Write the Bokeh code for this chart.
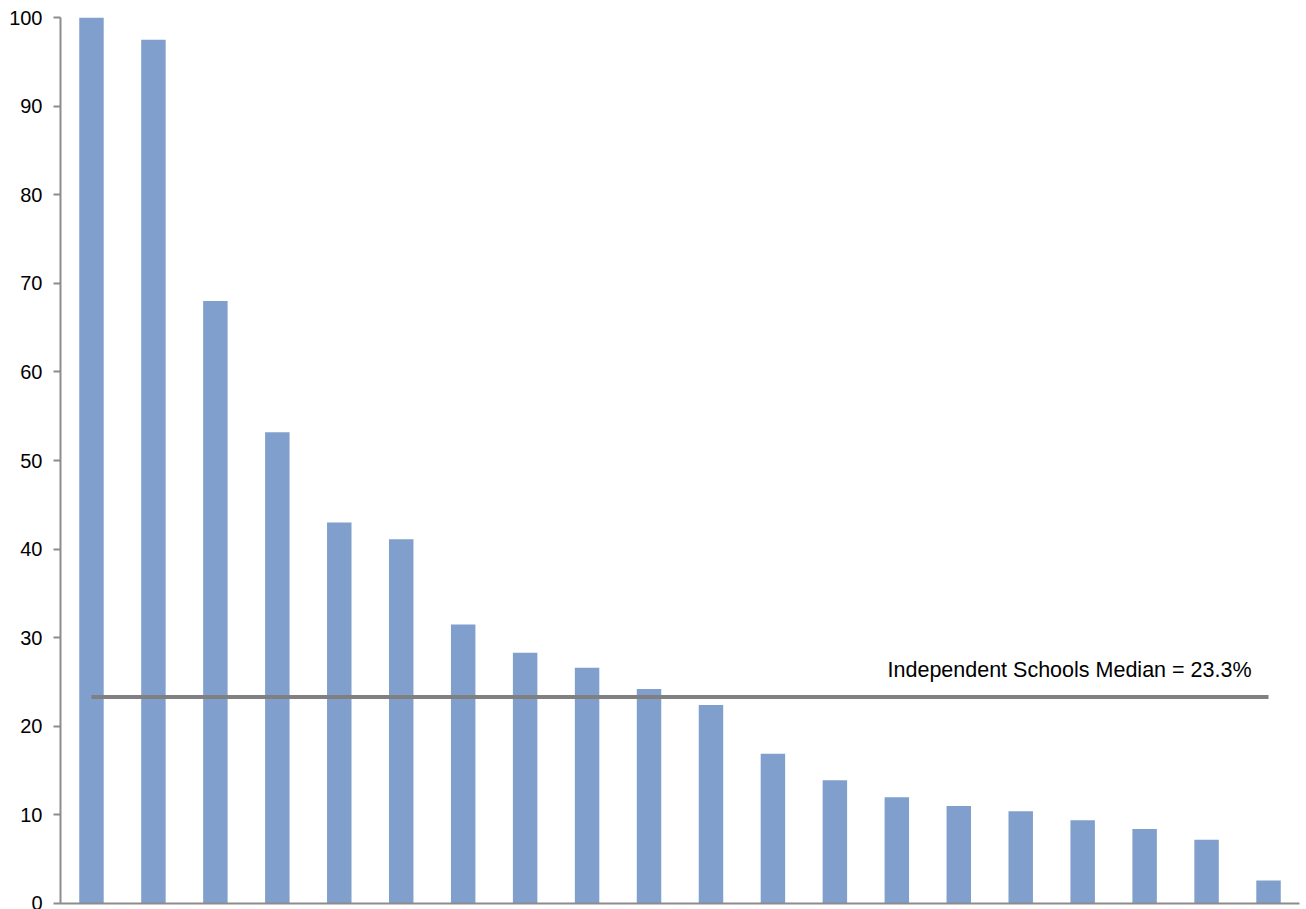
from bokeh.plotting import figure
from bokeh.models import Range1d, Label, FixedTicker, ColumnDataSource
from bokeh.embed import file_html
from bokeh.resources import INLINE

# Share of students per school, sorted from highest to lowest
school_index = list(range(1, 21))
percent_values = [100.0, 97.5, 68.0, 53.2, 43.0, 41.1, 31.5, 28.3, 26.6, 24.2,
                  22.4, 16.9, 13.9, 12.0, 11.0, 10.4, 9.4, 8.4, 7.2, 2.6]
median_value = 23.3
median_label = "Independent Schools Median = 23.3%"
y_ticks = [0, 10, 20, 30, 40, 50, 60, 70, 80, 90, 100]

BAR_COLOR = "#819FCC"
LINE_COLOR = "#808080"
AXIS_COLOR = "#8C8C8C"
FONT = "Liberation Sans"

p = figure(width=1306, height=909, output_backend="svg", toolbar_location=None,
           x_range=Range1d(0.5, 20.5), y_range=Range1d(0, 100),
           min_border_left=60, min_border_right=7, min_border_top=17,
           min_border_bottom=6)
p.outline_line_color = None
p.xgrid.visible = False
p.ygrid.visible = False
p.background_fill_color = "white"
p.border_fill_color = "white"

src = ColumnDataSource(dict(x=school_index, top=percent_values))
p.vbar(x="x", top="top", width=0.395, bottom=0, source=src,
       fill_color=BAR_COLOR, line_color=None)

# Median reference line spanning the bar centres
p.line(x=[school_index[0], school_index[-1]], y=[median_value, median_value],
       line_color=LINE_COLOR, line_width=4)

p.add_layout(Label(x=13.85, y=median_value, text=median_label, y_offset=15,
                   text_font=FONT, text_font_size="21.5px", text_color="black",
                   text_baseline="bottom", text_align="left"))

# Y axis
p.yaxis.ticker = FixedTicker(ticks=y_ticks)
p.yaxis.axis_line_color = AXIS_COLOR
p.yaxis.axis_line_width = 2
p.yaxis.major_tick_line_color = AXIS_COLOR
p.yaxis.major_tick_line_width = 2
p.yaxis.major_tick_out = 7
p.yaxis.major_tick_in = 0
p.yaxis.minor_tick_line_color = None
p.yaxis.major_label_text_font = FONT
p.yaxis.major_label_text_font_size = "20px"
p.yaxis.major_label_text_color = "black"
p.yaxis.major_label_standoff = 11

# X axis: plain baseline without ticks or labels
p.xaxis.ticker = FixedTicker(ticks=[])
p.xaxis.major_tick_line_color = None
p.xaxis.minor_tick_line_color = None
p.xaxis.axis_line_color = AXIS_COLOR
p.xaxis.axis_line_width = 2
p.xaxis.major_label_standoff = 0

open("out.html", "w").write(file_html(p, INLINE))
